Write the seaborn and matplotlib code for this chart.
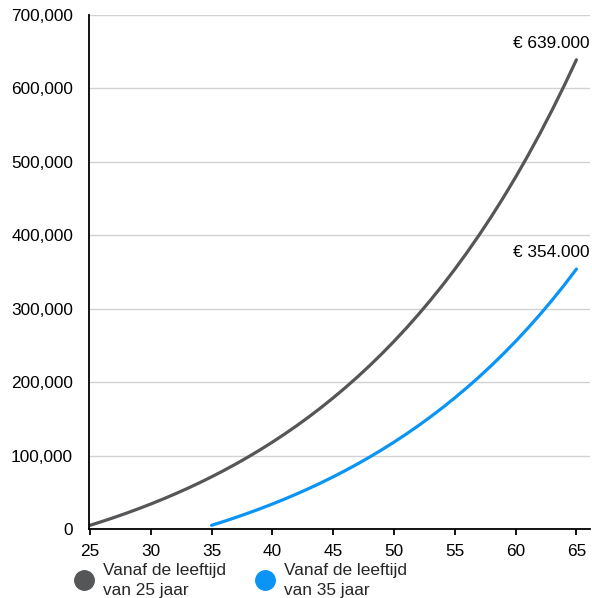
import matplotlib
matplotlib.use("Agg")
import matplotlib.pyplot as plt
from matplotlib.lines import Line2D
import seaborn as sns
import pandas as pd

# Accumulated capital per age (euro)
ages_25 = list(range(25, 66))
capital_25 = [5000, 10250, 15760, 21550, 27630, 34010, 40710, 47750, 55130, 62890,
              71030, 79590, 88560, 97990, 107890, 118290, 129200, 140660, 152690, 165330,
              178600, 192530, 207150, 222510, 238640, 255570, 273350, 292010, 311610, 332190,
              353800, 376490, 400320, 425330, 451600, 479180, 508140, 538550, 570480, 604000,
              639000]
ages_35 = list(range(35, 66))
capital_35 = [5000, 10250, 15760, 21550, 27630, 34010, 40710, 47750, 55130, 62890,
              71030, 79590, 88560, 97990, 107890, 118290, 129200, 140660, 152690, 165330,
              178600, 192530, 207150, 222510, 238640, 255570, 273350, 292010, 311610, 332190,
              354000]
series_labels = ["Vanaf de leeftijd\nvan 25 jaar", "Vanaf de leeftijd\nvan 35 jaar"]
end_labels = ["€ 639.000", "€ 354.000"]
colors = ["#555658", "#0a94f5"]

df = pd.concat([
    pd.DataFrame({"leeftijd": ages_25, "kapitaal": capital_25, "serie": series_labels[0]}),
    pd.DataFrame({"leeftijd": ages_35, "kapitaal": capital_35, "serie": series_labels[1]}),
])

sns.set_theme(style="white")
plt.rcParams["font.family"] = ["Liberation Sans", "DejaVu Sans"]
plt.rcParams["font.size"] = 12.4

fig = plt.figure(figsize=(5.92, 5.98), dpi=100)
ax = fig.add_axes([0.1503, 0.1154, 0.847, 0.8595])

sns.lineplot(data=df, x="leeftijd", y="kapitaal", hue="serie",
             palette=dict(zip(series_labels, colors)), linewidth=2.3,
             legend=False, ax=ax)
for line in ax.get_lines():
    line.set_solid_joinstyle("round")
    line.set_solid_capstyle("round")

ax.set_xlim(24.92, 66.15)
ax.set_ylim(0, 700000)
ax.set_xticks(range(25, 66, 5))
ax.set_yticks(range(0, 700001, 100000))
ax.yaxis.set_major_formatter(matplotlib.ticker.FuncFormatter(lambda v, p: f"{int(v):,}"))
ax.set_xlabel("")
ax.set_ylabel("")

ax.grid(axis="y", color="#d2d2d2", linewidth=1)
ax.grid(axis="x", visible=False)
for side in ["top", "right"]:
    ax.spines[side].set_visible(False)
for side in ["left", "bottom"]:
    ax.spines[side].set_color("black")
    ax.spines[side].set_linewidth(1.3)

ax.tick_params(axis="y", length=0, pad=11.5, labelsize=12.4, colors="black")
ax.tick_params(axis="x", direction="out", length=4, width=1.3, pad=7,
               labelsize=12.4, colors="black", bottom=True)

# Final value labels
for xs, ys, lab in [(ages_25, capital_25, end_labels[0]), (ages_35, capital_35, end_labels[1])]:
    ax.annotate(lab, xy=(xs[-1], ys[-1]), xytext=(9.4, 6.5), textcoords="offset points",
                ha="right", va="bottom", fontsize=12.4, color="black", annotation_clip=False)

handles = [Line2D([], [], linestyle="none", marker="o", markersize=14,
                  markerfacecolor=c, markeredgecolor=c) for c in colors]
leg = fig.legend(handles, series_labels, loc="upper left", bbox_to_anchor=(0.128, 0.059),
                 ncol=2, frameon=False, fontsize=12.4, handlelength=1.0, handletextpad=0.6,
                 columnspacing=1.75, borderpad=0, borderaxespad=0)
for t in leg.get_texts():
    t.set_linespacing(1.45)

fig.savefig("out.png", dpi=100)
